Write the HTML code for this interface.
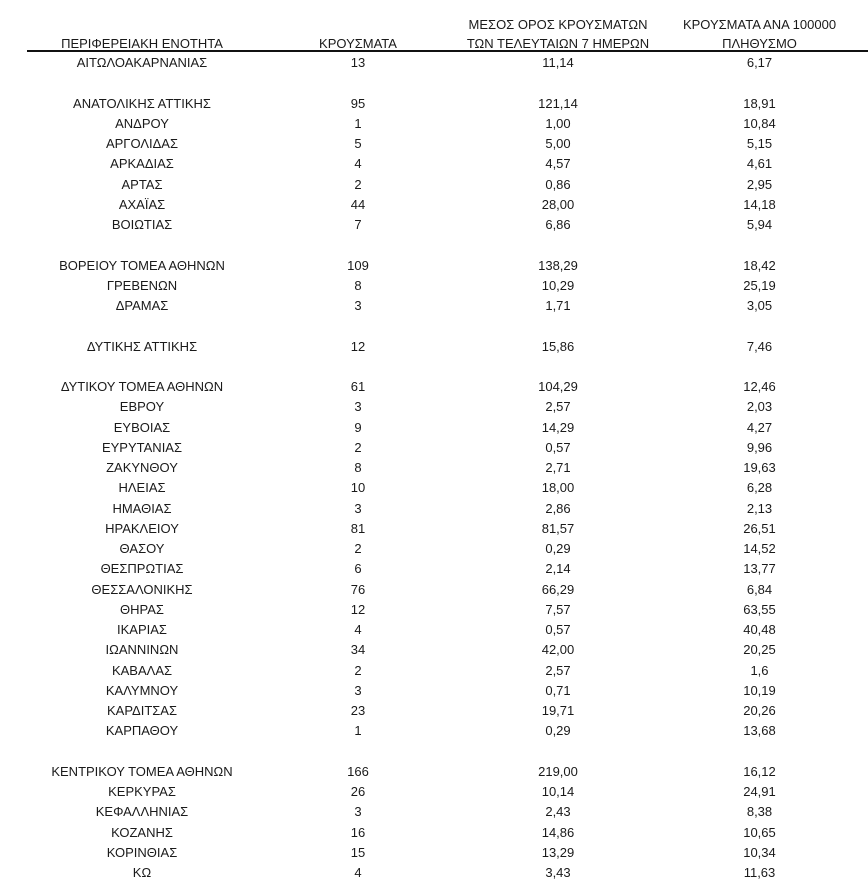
<!DOCTYPE html>
<html>
<head>
<meta charset="utf-8">
<style>
html,body{margin:0;padding:0;background:#fff;}
body{width:868px;height:879px;position:relative;overflow:hidden;font-family:"Liberation Sans","DejaVu Sans",sans-serif;font-size:13px;color:#1a1a1a;}
.col{position:absolute;text-align:center;white-space:nowrap;}
.h{line-height:19px;}
.r{line-height:20.25px;top:53px;}
.r div{height:20.25px;}
#line{position:absolute;left:27px;top:50px;width:841px;height:2px;background:#111;}
</style>
</head>
<body>
<div class="col h" style="left:42px;width:200px;top:33.6px;">ΠΕΡΙΦΕΡΕΙΑΚΗ ΕΝΟΤΗΤΑ</div>
<div class="col h" style="left:278px;width:160px;top:33.6px;">ΚΡΟΥΣΜΑΤΑ</div>
<div class="col h" style="left:448px;width:220px;top:14.6px;">ΜΕΣΟΣ ΟΡΟΣ ΚΡΟΥΣΜΑΤΩΝ<br>ΤΩΝ ΤΕΛΕΥΤΑΙΩΝ 7 ΗΜΕΡΩΝ</div>
<div class="col h" style="left:649.5px;width:220px;top:14.6px;">ΚΡΟΥΣΜΑΤΑ ΑΝΑ 100000<br>ΠΛΗΘΥΣΜΟ</div>
<div id="line"></div>

<div class="col r" style="left:42px;width:200px;">
<div>ΑΙΤΩΛΟΑΚΑΡΝΑΝΙΑΣ</div>
<div>&nbsp;</div>
<div>ΑΝΑΤΟΛΙΚΗΣ ΑΤΤΙΚΗΣ</div>
<div>ΑΝΔΡΟΥ</div>
<div>ΑΡΓΟΛΙΔΑΣ</div>
<div>ΑΡΚΑΔΙΑΣ</div>
<div>ΑΡΤΑΣ</div>
<div>ΑΧΑΪΑΣ</div>
<div>ΒΟΙΩΤΙΑΣ</div>
<div>&nbsp;</div>
<div>ΒΟΡΕΙΟΥ ΤΟΜΕΑ ΑΘΗΝΩΝ</div>
<div>ΓΡΕΒΕΝΩΝ</div>
<div>ΔΡΑΜΑΣ</div>
<div>&nbsp;</div>
<div>ΔΥΤΙΚΗΣ ΑΤΤΙΚΗΣ</div>
<div>&nbsp;</div>
<div>ΔΥΤΙΚΟΥ ΤΟΜΕΑ ΑΘΗΝΩΝ</div>
<div>ΕΒΡΟΥ</div>
<div>ΕΥΒΟΙΑΣ</div>
<div>ΕΥΡΥΤΑΝΙΑΣ</div>
<div>ΖΑΚΥΝΘΟΥ</div>
<div>ΗΛΕΙΑΣ</div>
<div>ΗΜΑΘΙΑΣ</div>
<div>ΗΡΑΚΛΕΙΟΥ</div>
<div>ΘΑΣΟΥ</div>
<div>ΘΕΣΠΡΩΤΙΑΣ</div>
<div>ΘΕΣΣΑΛΟΝΙΚΗΣ</div>
<div>ΘΗΡΑΣ</div>
<div>ΙΚΑΡΙΑΣ</div>
<div>ΙΩΑΝΝΙΝΩΝ</div>
<div>ΚΑΒΑΛΑΣ</div>
<div>ΚΑΛΥΜΝΟΥ</div>
<div>ΚΑΡΔΙΤΣΑΣ</div>
<div>ΚΑΡΠΑΘΟΥ</div>
<div>&nbsp;</div>
<div>ΚΕΝΤΡΙΚΟΥ ΤΟΜΕΑ ΑΘΗΝΩΝ</div>
<div>ΚΕΡΚΥΡΑΣ</div>
<div>ΚΕΦΑΛΛΗΝΙΑΣ</div>
<div>ΚΟΖΑΝΗΣ</div>
<div>ΚΟΡΙΝΘΙΑΣ</div>
<div>ΚΩ</div>
</div>

<div class="col r" style="left:298px;width:120px;">
<div>13</div>
<div>&nbsp;</div>
<div>95</div>
<div>1</div>
<div>5</div>
<div>4</div>
<div>2</div>
<div>44</div>
<div>7</div>
<div>&nbsp;</div>
<div>109</div>
<div>8</div>
<div>3</div>
<div>&nbsp;</div>
<div>12</div>
<div>&nbsp;</div>
<div>61</div>
<div>3</div>
<div>9</div>
<div>2</div>
<div>8</div>
<div>10</div>
<div>3</div>
<div>81</div>
<div>2</div>
<div>6</div>
<div>76</div>
<div>12</div>
<div>4</div>
<div>34</div>
<div>2</div>
<div>3</div>
<div>23</div>
<div>1</div>
<div>&nbsp;</div>
<div>166</div>
<div>26</div>
<div>3</div>
<div>16</div>
<div>15</div>
<div>4</div>
</div>

<div class="col r" style="left:458px;width:200px;">
<div>11,14</div>
<div>&nbsp;</div>
<div>121,14</div>
<div>1,00</div>
<div>5,00</div>
<div>4,57</div>
<div>0,86</div>
<div>28,00</div>
<div>6,86</div>
<div>&nbsp;</div>
<div>138,29</div>
<div>10,29</div>
<div>1,71</div>
<div>&nbsp;</div>
<div>15,86</div>
<div>&nbsp;</div>
<div>104,29</div>
<div>2,57</div>
<div>14,29</div>
<div>0,57</div>
<div>2,71</div>
<div>18,00</div>
<div>2,86</div>
<div>81,57</div>
<div>0,29</div>
<div>2,14</div>
<div>66,29</div>
<div>7,57</div>
<div>0,57</div>
<div>42,00</div>
<div>2,57</div>
<div>0,71</div>
<div>19,71</div>
<div>0,29</div>
<div>&nbsp;</div>
<div>219,00</div>
<div>10,14</div>
<div>2,43</div>
<div>14,86</div>
<div>13,29</div>
<div>3,43</div>
</div>

<div class="col r" style="left:659.5px;width:200px;">
<div>6,17</div>
<div>&nbsp;</div>
<div>18,91</div>
<div>10,84</div>
<div>5,15</div>
<div>4,61</div>
<div>2,95</div>
<div>14,18</div>
<div>5,94</div>
<div>&nbsp;</div>
<div>18,42</div>
<div>25,19</div>
<div>3,05</div>
<div>&nbsp;</div>
<div>7,46</div>
<div>&nbsp;</div>
<div>12,46</div>
<div>2,03</div>
<div>4,27</div>
<div>9,96</div>
<div>19,63</div>
<div>6,28</div>
<div>2,13</div>
<div>26,51</div>
<div>14,52</div>
<div>13,77</div>
<div>6,84</div>
<div>63,55</div>
<div>40,48</div>
<div>20,25</div>
<div>1,6</div>
<div>10,19</div>
<div>20,26</div>
<div>13,68</div>
<div>&nbsp;</div>
<div>16,12</div>
<div>24,91</div>
<div>8,38</div>
<div>10,65</div>
<div>10,34</div>
<div>11,63</div>
</div>
</body>
</html>
